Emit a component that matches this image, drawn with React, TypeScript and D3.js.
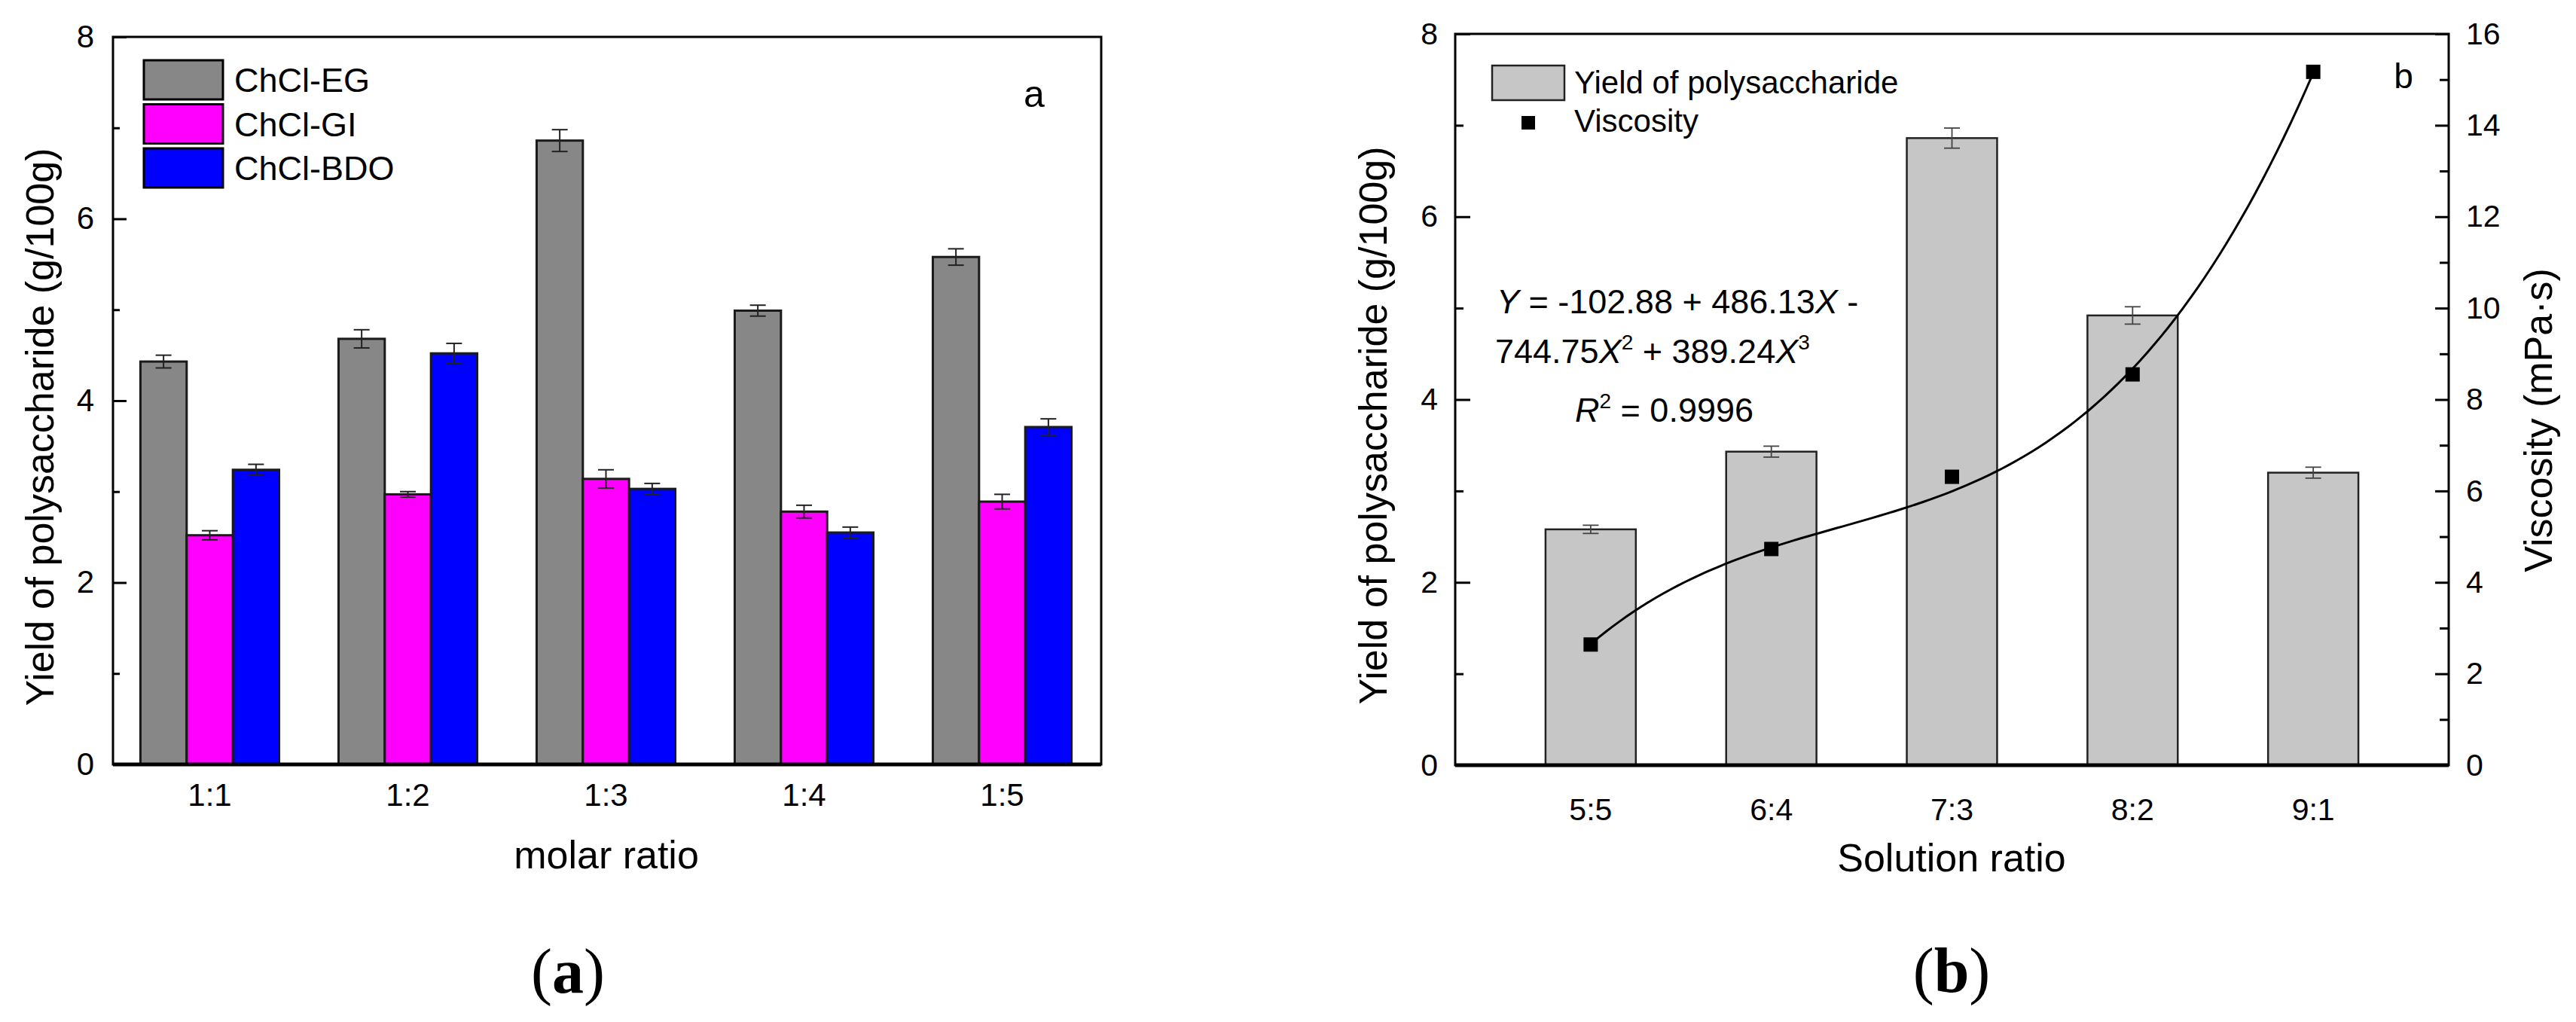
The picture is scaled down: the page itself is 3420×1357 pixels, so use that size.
import React, { useEffect, useRef } from "react"
import * as d3 from "d3"

const W = 3420
const H = 1357
const SANS = "'Liberation Sans', Arial, sans-serif"
const SERIF = "'Liberation Serif', 'Times New Roman', serif"

// panel (a): yield by molar ratio for three DES
const molarRatios = ["1:1", "1:2", "1:3", "1:4", "1:5"]
const solvents = ["ChCl-EG", "ChCl-GI", "ChCl-BDO"]
const solventColors = ["#878787", "#ff00ff", "#0000ff"]
const egYield = [4.43, 4.68, 6.86, 4.99, 5.58]
const egErr = [0.07, 0.1, 0.12, 0.06, 0.09]
const glYield = [2.52, 2.97, 3.14, 2.78, 2.89]
const glErr = [0.05, 0.03, 0.1, 0.07, 0.08]
const bdoYield = [3.24, 4.52, 3.03, 2.55, 3.71]
const bdoErr = [0.06, 0.11, 0.06, 0.06, 0.09]

// panel (b): yield and viscosity by solution ratio
const solutionRatios = ["5:5", "6:4", "7:3", "8:2", "9:1"]
const solutionFraction = [0.5, 0.6, 0.7, 0.8, 0.9]
const yieldB = [2.58, 3.43, 6.86, 4.92, 3.2]
const yieldErrB = [0.045, 0.06, 0.11, 0.095, 0.06]
const viscosity = [2.64, 4.73, 6.31, 8.55, 15.17]
// Y = c0 + c1 X + c2 X^2 + c3 X^3 as printed on the chart
const fitCoef = [-102.88, 486.13, -744.75, 389.24]

const leftTicks = [0, 2, 4, 6, 8]
const leftMinor = [1, 3, 5, 7]
const rightTicks = [0, 2, 4, 6, 8, 10, 12, 14, 16]
const rightMinor = [1, 3, 5, 7, 9, 11, 13, 15]

const PA = { left: 150, right: 1462, top: 49, bottom: 1015 }
const PB = { left: 1932, right: 3251, top: 45, bottom: 1016 }

type Sel = d3.Selection<SVGGElement, unknown, null, undefined>

function styleAxisText(g: Sel, size: number) {
  g.select(".domain").remove()
  g.selectAll("text")
    .attr("fill", "#000")
    .attr("font-size", size)
    .attr("font-family", SANS)
  g.selectAll(".tick line").attr("stroke", "#000").attr("stroke-width", 3)
}

function errorBar(g: Sel, cx: number, y0: number, y1: number, cap: number, color: string, w: number) {
  g.append("line").attr("x1", cx).attr("x2", cx).attr("y1", y0).attr("y2", y1)
    .attr("stroke", color).attr("stroke-width", w)
  for (const y of [y0, y1]) {
    g.append("line").attr("x1", cx - cap / 2).attr("x2", cx + cap / 2).attr("y1", y).attr("y2", y)
      .attr("stroke", color).attr("stroke-width", w)
  }
}

export default function App() {
  const svgRef = useRef<SVGSVGElement>(null)

  useEffect(() => {
    const svg = svgRef.current
    if (!svg) return
    const root = d3.select(svg)
    root.selectAll("*").remove()

    // ---------------- panel (a) ----------------
    const ga = root.append("g") as unknown as Sel
    const x0 = d3.scaleBand<string>().domain(molarRatios).range([147, PA.right]).paddingInner(0.3).paddingOuter(0.15)
    const x1 = d3.scaleBand<string>().domain(solvents).range([0, x0.bandwidth()])
    const ya = d3.scaleLinear().domain([0, 8]).range([PA.bottom, PA.top])

    const seriesA = solvents.map((name, i) => ({
      name,
      color: solventColors[i],
      values: [egYield, glYield, bdoYield][i],
      errors: [egErr, glErr, bdoErr][i],
    }))

    seriesA.forEach((s) => {
      ga.append("g")
        .selectAll("rect")
        .data(molarRatios)
        .join("rect")
        .attr("x", (d) => (x0(d) ?? 0) + (x1(s.name) ?? 0))
        .attr("width", x1.bandwidth())
        .attr("y", (_, i) => ya(s.values[i]))
        .attr("height", (_, i) => ya(0) - ya(s.values[i]))
        .attr("fill", s.color)
        .attr("stroke", "#1a1a1a")
        .attr("stroke-width", 3)
    })
    seriesA.forEach((s) => {
      molarRatios.forEach((r, i) => {
        const cx = (x0(r) ?? 0) + (x1(s.name) ?? 0) + x1.bandwidth() / 2
        errorBar(ga, cx, ya(s.values[i] + s.errors[i]), ya(s.values[i] - s.errors[i]), 21, "#222", 2)
      })
    })

    // frame
    ga.append("rect").attr("x", PA.left).attr("y", PA.top)
      .attr("width", PA.right - PA.left).attr("height", PA.bottom - PA.top)
      .attr("fill", "none").attr("stroke", "#000").attr("stroke-width", 3)
    ga.append("line").attr("x1", PA.left).attr("x2", PA.right).attr("y1", PA.bottom).attr("y2", PA.bottom)
      .attr("stroke", "#000").attr("stroke-width", 5)

    ga.append("g").attr("transform", `translate(${PA.left},0)`)
      .call(d3.axisLeft(ya).tickValues(leftTicks).tickSize(-18).tickPadding(25).tickFormat(d3.format("d")))
      .call((g) => styleAxisText(g as Sel, 42))
    ga.append("g").attr("transform", `translate(${PA.left},0)`)
      .call(d3.axisLeft(ya).tickValues(leftMinor).tickSize(-9).tickFormat(() => ""))
      .call((g) => styleAxisText(g as Sel, 42))

    ga.append("g").attr("transform", `translate(0,${PA.bottom})`)
      .call(d3.axisBottom(x0).tickSize(0).tickPadding(25))
      .call((g) => styleAxisText(g as Sel, 42))

    // legend (a)
    solvents.forEach((name, i) => {
      const y = 80 + i * 58.5
      ga.append("rect").attr("x", 191).attr("y", y).attr("width", 105).attr("height", 52)
        .attr("fill", solventColors[i]).attr("stroke", "#000").attr("stroke-width", 3)
      ga.append("text").attr("x", 311).attr("y", y + 42).text(name)
        .attr("font-size", 45).attr("font-family", SANS)
    })
    ga.append("text").attr("x", 1373).attr("y", 142).attr("text-anchor", "middle")
      .attr("font-size", 50).attr("font-family", SANS).text("a")

    ga.append("text").attr("transform", "translate(53,567) rotate(-90)").attr("text-anchor", "middle")
      .attr("dy", "0.35em").attr("font-size", 52).attr("font-family", SANS)
      .text("Yield of polysaccharide (g/100g)")
    ga.append("text").attr("x", 805).attr("y", 1153).attr("text-anchor", "middle")
      .attr("font-size", 52).attr("font-family", SANS).text("molar ratio")

    const capA = ga.append("text").attr("x", 754).attr("y", 1318).attr("text-anchor", "middle")
      .attr("font-size", 84).attr("font-family", SERIF)
    capA.append("tspan").text("(")
    capA.append("tspan").attr("font-weight", "bold").text("a")
    capA.append("tspan").text(")")

    // ---------------- panel (b) ----------------
    const gb = root.append("g") as unknown as Sel
    const xb = d3.scaleBand<string>().domain(solutionRatios).range([PB.left, PB.right]).padding(0.5)
    const yb = d3.scaleLinear().domain([0, 8]).range([PB.bottom, PB.top])
    const yv = d3.scaleLinear().domain([0, 16]).range([PB.bottom, PB.top])
    const cx = (r: string) => (xb(r) ?? 0) + xb.bandwidth() / 2
    const xFrac = d3.scaleLinear()
      .domain([solutionFraction[0], solutionFraction[solutionFraction.length - 1]])
      .range([cx(solutionRatios[0]), cx(solutionRatios[solutionRatios.length - 1])])

    gb.append("g").selectAll("rect").data(solutionRatios).join("rect")
      .attr("x", (d) => xb(d) ?? 0)
      .attr("width", xb.bandwidth())
      .attr("y", (_, i) => yb(yieldB[i]))
      .attr("height", (_, i) => yb(0) - yb(yieldB[i]))
      .attr("fill", "#c6c6c6")
      .attr("stroke", "#222")
      .attr("stroke-width", 2.5)
    solutionRatios.forEach((r, i) => {
      errorBar(gb, cx(r), yb(yieldB[i] + yieldErrB[i]), yb(yieldB[i] - yieldErrB[i]), 21, "#444", 1.8)
    })

    // fitted cubic from the printed equation
    const fitY = (x: number) => fitCoef.reduce((acc, c, k) => acc + c * Math.pow(x, k), 0)
    const xs = d3.range(solutionFraction[0], solutionFraction[solutionFraction.length - 1] + 1e-9, 0.004)
    gb.append("path")
      .datum(xs)
      .attr("fill", "none")
      .attr("stroke", "#000")
      .attr("stroke-width", 3)
      .attr("d", d3.line<number>().x((d) => xFrac(d)).y((d) => yv(fitY(d))))

    gb.append("g").selectAll("rect").data(solutionRatios).join("rect")
      .attr("x", (d) => cx(d) - 9.5)
      .attr("y", (_, i) => yv(viscosity[i]) - 9.5)
      .attr("width", 19)
      .attr("height", 19)
      .attr("fill", "#000")

    gb.append("rect").attr("x", PB.left).attr("y", PB.top)
      .attr("width", PB.right - PB.left).attr("height", PB.bottom - PB.top)
      .attr("fill", "none").attr("stroke", "#000").attr("stroke-width", 3)
    gb.append("line").attr("x1", PB.left).attr("x2", PB.right).attr("y1", PB.bottom).attr("y2", PB.bottom)
      .attr("stroke", "#000").attr("stroke-width", 5)

    gb.append("g").attr("transform", `translate(${PB.left},0)`)
      .call(d3.axisLeft(yb).tickValues(leftTicks).tickSize(-20).tickPadding(23).tickFormat(d3.format("d")))
      .call((g) => styleAxisText(g as Sel, 41))
    gb.append("g").attr("transform", `translate(${PB.left},0)`)
      .call(d3.axisLeft(yb).tickValues(leftMinor).tickSize(-11).tickFormat(() => ""))
      .call((g) => styleAxisText(g as Sel, 41))
    gb.append("g").attr("transform", `translate(${PB.right},0)`)
      .call(d3.axisRight(yv).tickValues(rightTicks).tickSize(-18).tickPadding(23).tickFormat(d3.format("d")))
      .call((g) => styleAxisText(g as Sel, 41))
    gb.append("g").attr("transform", `translate(${PB.right},0)`)
      .call(d3.axisRight(yv).tickValues(rightMinor).tickSize(-12).tickFormat(() => ""))
      .call((g) => styleAxisText(g as Sel, 41))
    gb.append("g").attr("transform", `translate(0,${PB.bottom})`)
      .call(d3.axisBottom(xb).tickSize(0).tickPadding(44))
      .call((g) => styleAxisText(g as Sel, 41))

    // legend (b)
    gb.append("rect").attr("x", 1981).attr("y", 87).attr("width", 96).attr("height", 46)
      .attr("fill", "#c6c6c6").attr("stroke", "#222").attr("stroke-width", 2.5)
    gb.append("text").attr("x", 2090).attr("y", 124).attr("font-size", 42).attr("font-family", SANS)
      .text("Yield of polysaccharide")
    gb.append("rect").attr("x", 2020).attr("y", 154).attr("width", 18).attr("height", 18).attr("fill", "#000")
    gb.append("text").attr("x", 2090).attr("y", 175).attr("font-size", 42).attr("font-family", SANS)
      .text("Viscosity")
    gb.append("text").attr("x", 3191).attr("y", 117).attr("text-anchor", "middle")
      .attr("font-size", 46).attr("font-family", SANS).text("b")

    // equation
    const eq = gb.append("g").attr("font-size", 45).attr("font-family", SANS)
    const l1 = eq.append("text").attr("x", 1987).attr("y", 416)
    l1.append("tspan").attr("font-style", "italic").text("Y")
    l1.append("tspan").text(" = -102.88 + 486.13")
    l1.append("tspan").attr("font-style", "italic").text("X")
    l1.append("tspan").text(" -")
    const l2 = eq.append("text").attr("x", 1985).attr("y", 482)
    l2.append("tspan").text("744.75")
    l2.append("tspan").attr("font-style", "italic").text("X")
    l2.append("tspan").attr("font-size", 28).attr("dy", -18).text("2")
    l2.append("tspan").attr("dy", 18).text(" + 389.24")
    l2.append("tspan").attr("font-style", "italic").text("X")
    l2.append("tspan").attr("font-size", 28).attr("dy", -18).text("3")
    const l3 = eq.append("text").attr("x", 2091).attr("y", 560)
    l3.append("tspan").attr("font-style", "italic").text("R")
    l3.append("tspan").attr("font-size", 28).attr("dy", -18).text("2")
    l3.append("tspan").attr("dy", 18).text(" = 0.9996")

    gb.append("text").attr("transform", "translate(1823,565) rotate(-90)").attr("text-anchor", "middle")
      .attr("dy", "0.35em").attr("font-size", 52).attr("font-family", SANS)
      .text("Yield of polysaccharide (g/100g)")
    gb.append("text").attr("transform", "translate(3370,558) rotate(-90)").attr("text-anchor", "middle")
      .attr("dy", "0.35em").attr("font-size", 52).attr("font-family", SANS)
      .text("Viscosity (mPa·s)")
    gb.append("text").attr("x", 2591).attr("y", 1157).attr("text-anchor", "middle")
      .attr("font-size", 52).attr("font-family", SANS).text("Solution ratio")

    const capB = gb.append("text").attr("x", 2591).attr("y", 1317).attr("text-anchor", "middle")
      .attr("font-size", 84).attr("font-family", SERIF)
    capB.append("tspan").text("(")
    capB.append("tspan").attr("font-weight", "bold").text("b")
    capB.append("tspan").text(")")
  }, [])

  return (
    <div>
      <style>{`body{margin:0;background:#fff}`}</style>
      <svg ref={svgRef} width={W} height={H} style={{ display: "block", background: "#fff" }} />
    </div>
  )
}
